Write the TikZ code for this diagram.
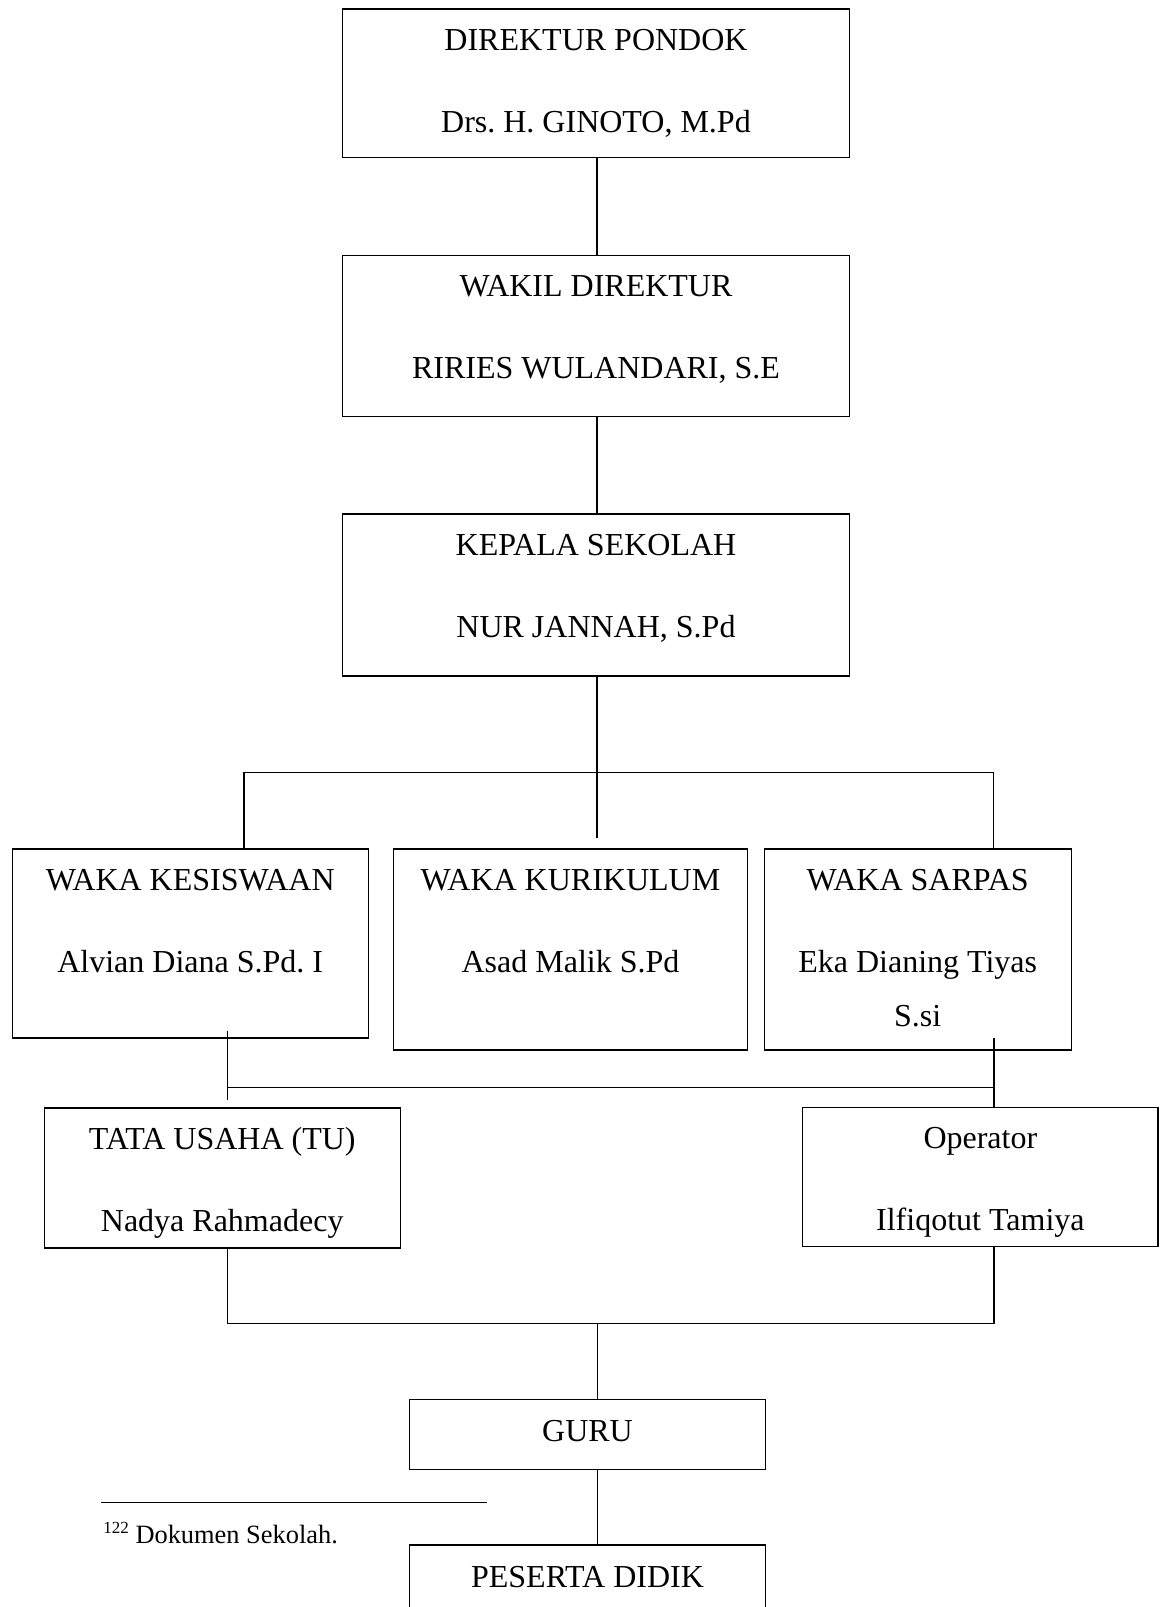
\documentclass[tikz,border=0pt]{standalone}
\usepackage{fontspec}
\setmainfont{Liberation Serif}
\frenchspacing
\usetikzlibrary{calc}
\tikzset{
	kotak/.style={draw, line width=0.7pt, inner sep=0pt, outer sep=0pt, anchor=north west},
	teks/.style={font=\fontsize{16}{19}\selectfont, inner sep=0pt, anchor=base},
	garis/.style={line width=0.65pt}
}
\newcommand{\jabatan}[7] % name, left x, top y, width, height (px), title, person
{
	% box
	\node[kotak, minimum width=#4*0.5pt, minimum height=#5*0.5pt] (#1) at (#2,#3) {};
	% title and person
	\node[teks] (#1-a) at ($(#1.north)+(0,41.5)$) {#6};
	\node[teks] (#1-b) at ($(#1.north)+(0,123)$) {#7};
}

\begin{document}
\begin{tikzpicture}[x=0.5pt, y=-0.5pt]
	% page 1160 x 1607 px, 1px = 0.5pt
	\useasboundingbox (0,0) rectangle (1160,1607);
	\clip (0,0) rectangle (1160,1607);
	
	\jabatan{direktur}{342.5}{9}{507}{148.7}{DIREKTUR PONDOK}{Drs. H. GINOTO, M.Pd};
	\jabatan{wakil}{342.5}{255.3}{507}{161.4}{WAKIL DIREKTUR}{RIRIES WULANDARI, S.E};
	\jabatan{kepsek}{342.5}{514}{507}{162}{KEPALA SEKOLAH}{NUR JANNAH, S.Pd};
	
	\jabatan{kesiswaan}{12.2}{849}{356}{189}{WAKA KESISWAAN}{Alvian Diana S.Pd. I};
	\jabatan{kurikulum}{393.3}{849}{354.4}{201}{WAKA KURIKULUM}{Asad Malik S.Pd};
	\jabatan{sarpas}{764.2}{849}{307}{201}{WAKA SARPAS}{Eka Dianing Tiyas};
	\node[teks] (sarpas-c) at ($(sarpas.north)+(0,177.5)$) {S.si};
	
	\jabatan{tu}{44.2}{1108}{356}{140}{TATA USAHA (TU)}{Nadya Rahmadecy};
	\jabatan{operator}{802.7}{1107.3}{355.3}{139.4}{Operator}{Ilfiqotut Tamiya};
	
	% one line boxes
	\node[kotak, minimum width=356*0.5pt, minimum height=70*0.5pt] (guru) at (409.5,1399.3) {};
	\node[teks] (guru-a) at ($(guru.north)+(0,42)$) {GURU};
	\node[kotak, minimum width=356*0.5pt, minimum height=130*0.5pt] (peserta) at (409.5,1545) {};
	\node[teks] (peserta-a) at ($(peserta.north)+(0,42)$) {PESERTA DIDIK};
	
	% top lines
	\coordinate (kiri) at (244,772.7);
	\coordinate (kanan) at (993.7,772.7);
	\coordinate (tengah) at (597,838);
	\draw[garis] (direktur.south -| tengah) -- (wakil.north -| tengah);
	\draw[garis] (wakil.south -| tengah) -- (kepsek.north -| tengah);
	\draw[garis] (kepsek.south -| tengah) -- (tengah);
	\draw[garis] (kesiswaan.north -| kiri) -- (kiri) -- (kanan) -- (sarpas.north -| kanan);
	
	% middle lines
	\coordinate (tu-atas) at (227.5,1030.7);
	\coordinate (tu-bawah) at (227.5,1100);
	\coordinate (op-atas) at (994,1038);
	\coordinate (cabang) at (227.5,1087.5);
	\draw[garis] (tu-atas) -- (tu-bawah);
	\draw[garis] (cabang) -- (cabang -| op-atas);
	\draw[garis] (op-atas) -- (operator.north -| op-atas);
	
	% bottom lines
	\coordinate (bawah-ki) at (227.5,1323.5);
	\coordinate (bawah-ka) at (994,1323.5);
	\coordinate (bawah-te) at (597.5,1323.5);
	\draw[garis] (tu.south -| bawah-ki) -- (bawah-ki) -- (bawah-ka) -- (operator.south -| bawah-ka);
	\draw[garis] (bawah-te) -- (guru.north -| bawah-te);
	\draw[garis] (guru.south -| bawah-te) -- (peserta.north -| bawah-te);
	
	% footnote
	\draw[garis] (101.4,1502.3) -- (487,1502.3);
	\node[anchor=base west, inner sep=0pt, font=\fontsize{13.2}{16}\selectfont] (catatan) at (103,1543) {\raisebox{5pt}{\fontsize{8.5}{10}\selectfont 122} Dokumen Sekolah.};
\end{tikzpicture}
\end{document}
